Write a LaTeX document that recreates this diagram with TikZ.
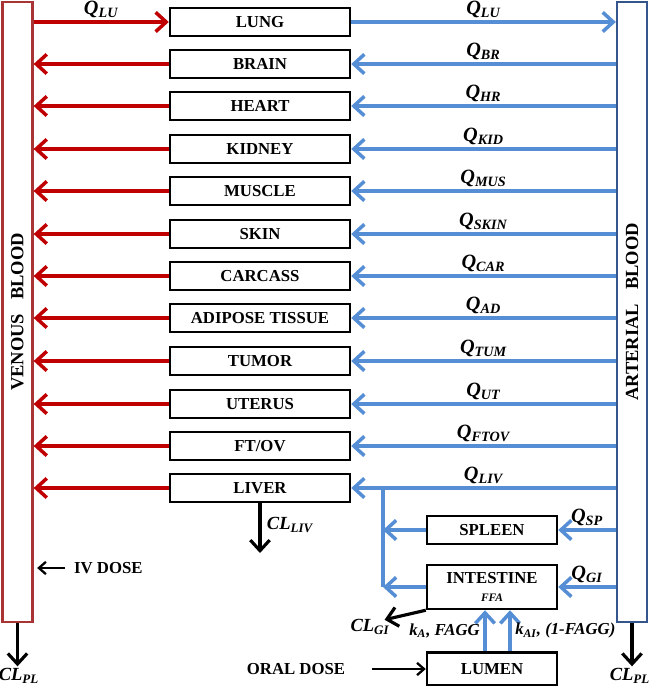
\documentclass[tikz,border=0pt]{standalone}
\usepackage{fontspec}
\setmainfont{Liberation Serif}
\usetikzlibrary{arrows.meta}
\definecolor{venred}{RGB}{192,0,0}
\definecolor{venedge}{RGB}{168,52,52}
\definecolor{artblue}{RGB}{85,142,213}
\definecolor{artedge}{RGB}{52,86,140}
\newcommand{\flow}[1]{\textbf{\textit{Q\textsubscript{#1}}}}
\newcommand{\clear}[1]{\textbf{\textit{CL\textsubscript{#1}}}}
\tikzset{
  organ/.style={draw=black, line width=1.4pt, fill=white, minimum width=3.6cm, minimum height=0.56cm,
    inner sep=0pt, font=\fontsize{9.5bp}{11pt}\selectfont\bfseries},
  blood/.style={line width=1.3pt, fill=white, minimum width=0.6cm, minimum height=12.4cm, inner sep=0pt,
    font=\fontsize{10.5bp}{12pt}\selectfont\bfseries},
  venarrow/.style={venred, line width=2pt, -{Straight Barb[length=6pt,width=11pt]}},
  artarrow/.style={artblue, line width=2pt, -{Straight Barb[length=6pt,width=11pt]}},
  artline/.style={artblue, line width=2pt},
  outarrow/.style={black, line width=1.8pt, -{Straight Barb[length=6pt,width=11pt]}},
  flowlab/.style={above=0pt, inner sep=1.5pt, text=black, font=\fontsize{11.5bp}{13pt}\selectfont},
  plain/.style={inner sep=1pt, text=black, font=\fontsize{9.5bp}{11pt}\selectfont\bfseries},
  cllab/.style={inner sep=1pt, text=black, font=\fontsize{10.5bp}{12pt}\selectfont}
}
\begin{document}
\begin{tikzpicture}[x=0.02cm,y=-0.02cm]
    \useasboundingbox (0,0) rectangle (650,686);
    % blood pools
    \node[blood, draw=venedge] (ven) at (17.5,312) {\rotatebox{90}{VENOUS\ \ \ BLOOD}};
    \node[blood, draw=artedge] (art) at (632,312) {\rotatebox{90}{ARTERIAL\ \ \ BLOOD}};
    % lung
    \node[organ] (lung) at (260,22) {LUNG};
    \draw[venarrow] (lung.west -| ven.east) -- (lung.west) node[midway, flowlab]{\flow{LU}};
    \draw[artarrow] (lung.east) -- (lung.east -| art.west) node[midway, flowlab]{\flow{LU}};
    % tissues
    \foreach \n/\lab/\y/\q in {brain/BRAIN/64/BR, heart/HEART/106/HR, kidney/KIDNEY/149/KID,
        muscle/MUSCLE/191/MUS, skin/SKIN/234/SKIN, carcass/CARCASS/276/CAR,
        adipose/ADIPOSE TISSUE/318/AD, tumor/TUMOR/361/TUM, uterus/UTERUS/404/UT,
        ftov/{FT/OV}/446/FTOV, liver/LIVER/488/LIV}{
      \node[organ] (\n) at (260,\y) {\lab};
      \draw[venarrow] (\n.west) -- (\n.west -| ven.east);
      \draw[artarrow] (\n.east -| art.west) -- (\n.east) node[midway, flowlab]{\flow{\q}};
    }
    % splanchnic organs
    \node[organ, minimum width=2.6cm] (spleen) at (492,530) {SPLEEN};
    \node[organ, minimum width=2.6cm, minimum height=0.88cm, align=center] (gut) at (492,587)
        {INTESTINE\\[-1pt]{\fontsize{6.5bp}{7pt}\selectfont\itshape FFA}};
    \node[organ, minimum width=2.6cm, minimum height=0.66cm] (lumen) at (492,669) {LUMEN};
    \coordinate (jn) at (383,488);
    \draw[artline] (jn) -- (jn |- gut.west);
    \draw[artarrow] (spleen.west) -- (spleen.west -| jn);
    \draw[artarrow] (gut.west) -- (gut.west -| jn);
    \draw[artarrow] (spleen.east -| art.west) -- (spleen.east) node[midway, flowlab]{\flow{SP}};
    \draw[artarrow] (gut.east -| art.west) -- (gut.east) node[midway, flowlab]{\flow{GI}};
    \draw[artarrow] ([xshift=-0.14cm]lumen.north) -- ([xshift=-0.14cm]gut.south)
        node[midway, left=1pt, plain]{\textit{k\textsubscript{A}, FAGG}};
    \draw[artarrow] ([xshift=0.36cm]lumen.north) -- ([xshift=0.36cm]gut.south)
        node[midway, right=1pt, plain]{\textit{k\textsubscript{AI}, (1-FAGG)}};
    % doses and clearances
    \node[plain] (oral) at (296,669) {ORAL DOSE};
    \draw[outarrow, line width=1.3pt, -{Straight Barb[length=4pt,width=7pt]}] (oral.east) ++(0.5cm,0) -- (lumen.west);
    \node[plain, anchor=west] (iv) at (72,568) {IV DOSE};
    \draw[outarrow, line width=1.3pt, -{Straight Barb[length=4pt,width=7pt]}, shorten >=2pt]
        ([xshift=-0.14cm]iv.west) -- (iv.west -| ven.east);
    \node[cllab] (clgi) at (370,627) {\clear{GI}};
    \draw[outarrow] (gut.south west) -- ([xshift=-0.14cm,yshift=-0.05cm]clgi.north east);
    \node[cllab] (clliv) at (290,525) {\clear{LIV}};
    \coordinate (livout) at (260,553);
    \draw[outarrow] (liver.south) -- (livout);
    \node[cllab] (clven) at (19,676) {\clear{PL}};
    \node[cllab] (clart) at (630,676) {\clear{PL}};
    \draw[outarrow] (ven.south) -- (ven.south |- clven.north);
    \draw[outarrow] (art.south) -- (art.south |- clart.north);
\end{tikzpicture}
\end{document}
